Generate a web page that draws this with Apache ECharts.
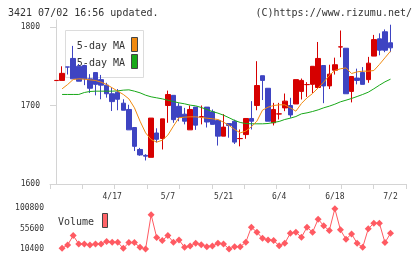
<!DOCTYPE html>
<html>
<head>
<meta charset="utf-8">
<script src="https://cdn.jsdelivr.net/npm/echarts@6.0.0/dist/echarts.min.js"></script>
<style>
html,body{margin:0;padding:0;background:#fff;}
#chart{width:420px;height:259px;}
</style>
</head>
<body>
<div id="chart"></div>
<script>
// trading days, index 0..60
var dates = ['4/3','4/4','4/5','4/8','4/9','4/10','4/11','4/12','4/15','4/16',
  '4/17','4/19','4/22','4/23','4/24','4/25','4/26','4/30','5/1','5/2',
  '5/7','5/8','5/9','5/10','5/13','5/14','5/15','5/16','5/17','5/20',
  '5/21','5/22','5/23','5/24','5/27','5/28','5/29','5/30','5/31','6/3',
  '6/4','6/5','6/6','6/7','6/10','6/11','6/12','6/13','6/14','6/17',
  '6/18','6/19','6/20','6/21','6/24','6/25','6/26','6/27','6/28','7/1',
  '7/2'];
var labelIdx = [10, 20, 30, 40, 50, 60];

var openVals = [1731.8,1732,1749.2,1760,1750,1751,1734,1742,1733,1726,
  1715,1717,1703,1695,1672,1644,1636.5,1634,1665,1658,
  1700,1713,1699,1689,1669,1698,1685.8,1698,1692,1681,
  1661,1677,1680,1657.8,1663,1683.5,1700,1738,1722,1678,
  1689.2,1697,1700,1702,1718,1726.6,1727,1723,1751,1725,
  1745,1774.6,1773,1718,1735,1742,1733,1763,1785,1794,
  1780];
var closeVals = [1732,1741,1749,1734,1731,1734,1722,1727,1726,1715,
  1705,1708,1694,1669,1648,1637,1635.5,1684,1657,1683,
  1714,1682,1685,1680,1695,1675,1686,1679,1676,1661,
  1672.5,1674.6,1653.4,1658,1683.5,1680,1725.5,1732,1680,1695,
  1689.4,1705.6,1688,1733,1732,1726.8,1750,1760,1725,1740,
  1752,1774.8,1715,1737,1732,1727,1754,1784,1770.5,1770.5,
  1773.5];
var lowVals = [1731.8,1732,1739.5,1734,1731,1726,1716,1713,1708,1710,
  1693,1694,1694,1669,1642,1636,1630,1634,1653,1644,
  1678,1678,1680,1676,1669,1669,1676,1672,1676,1649,
  1661,1659,1651,1648,1657.6,1669.5,1694,1707,1680,1674.6,
  1682.2,1692.8,1684.4,1702,1707.7,1711,1716,1721,1703,1721,
  1739.5,1761.6,1715,1704,1727,1727,1729,1763,1764,1768,
  1768];
var highVals = [1732,1750,1749.2,1776,1753,1752,1740,1742,1739,1729,
  1723,1721,1708,1701,1672,1646,1638,1684,1671,1683,
  1719,1713,1703,1697,1700,1698,1700,1698,1695,1681,
  1689,1677,1682,1669.5,1683.5,1705.6,1756.5,1738,1722,1703.4,
  1703.4,1715.3,1709.8,1733,1734.4,1729.8,1750,1781,1751,1752,
  1761,1795.6,1773,1737,1747,1749,1762,1790,1792,1797,
  1803];

var ma5 = [null,1721.3,1726.8,1733.2,1734.0,1733.6,1732.7,1731.9,1729.8,1726.8,
  1722.6,1718.3,1714.1,1708.5,1697.1,1680.1,1665.2,1656.7,1653.3,1655.9,
  1662.3,1673.7,1684.4,1685.2,1685.6,1685.6,1684.8,1683.9,1683.1,1682.2,
  1678.8,1674.6,1669.5,1665.2,1667.4,1672.9,1680.1,1694.1,1697.9,1700,
  1700.9,1700.9,1697.1,1692.8,1702.6,1709.8,1715.3,1722.6,1729.8,1738.3,
  1744.6,1746.8,1748,1740.8,1742.9,1743.8,1743.8,1744.6,1752.3,1760.8,
  1769.3];
var ma25 = [null,1714.1,1714.1,1714.1,1714.1,1716.6,1717.9,1718.3,1718.3,1718.3,
  1718.3,1718.7,1719.6,1720,1718.3,1716.2,1713.2,1711.1,1709.8,1708.5,
  1706.8,1705.1,1703.4,1702.2,1700.5,1699.6,1697.5,1695,1692.4,1690.3,
  1687.7,1684.4,1681,1678.4,1677.1,1676.7,1676.7,1676.7,1677.1,1678.4,
  1679.7,1682.2,1683.9,1686,1689.4,1690.7,1692.4,1694.5,1697.1,1699.2,
  1701.7,1704.7,1706.8,1709,1711.5,1714.1,1717,1721.3,1725.9,1730.2,
  1733.6];

var volumes = [null,11880,19280,40000,21500,21500,19280,21500,21500,26680,
  25200,25200,11880,24460,24460,14100,10400,85880,35560,28900,
  40000,25200,30380,14100,17060,22980,20000,15580,17060,22980,
  21500,10400,15580,15580,25200,58500,47400,34080,30380,28900,
  17800,22980,45180,47400,36300,58500,47400,76260,61460,51100,
  99200,52580,31860,43700,22980,14100,54800,67380,67380,24460,
  45180];

var priceTicks = [1600, 1700, 1800];
var volTicks = [10400, 55600, 100800];

var RED = '#d60000';
var BLUE = '#3e44c2';
var ORANGE = '#f08a10';
var GREEN = '#18a818';
var VOL = '#ff5a62';
var AXIS = '#d4d4d4';
var FONT = 'DejaVu Sans Mono';
var xMin = -1.17, xMax = 62.78;

function pairs(arr) {
  return arr.map(function (v, i) { return [i, v]; });
}
function plain(v) {
  return String(v);
}

var candles = dates.map(function (d, i) {
  return [i, openVals[i], closeVals[i], lowVals[i], highVals[i]];
});

var chart = echarts.init(document.getElementById('chart'));

var option = {
  animation: false,
  grid: [
    {left: 50, right: 14, top: 20, height: 164},
    {left: 50, right: 14, top: 208, height: 41}
  ],
  xAxis: [
    {
      type: 'value', gridIndex: 0, position: 'bottom', min: xMin, max: xMax,
      axisLine: {show: false}, axisTick: {show: false}, splitLine: {show: false},
      axisLabel: {
        customValues: labelIdx,
        formatter: function (v) { return dates[v]; },
        fontFamily: FONT, fontSize: 8, color: '#333', margin: 9
      }
    },
    {
      // tick marks along the bottom of the price chart
      type: 'value', gridIndex: 0, position: 'bottom', min: 0, max: 11, interval: 1,
      axisLine: {show: true, lineStyle: {color: AXIS}},
      axisTick: {show: true, length: 5, lineStyle: {color: AXIS}},
      axisLabel: {show: false}, splitLine: {show: false}
    },
    {type: 'value', gridIndex: 1, min: xMin, max: xMax, show: false}
  ],
  yAxis: [
    {
      type: 'value', gridIndex: 0, position: 'left', min: 1600, max: 1809,
      axisLine: {show: true, lineStyle: {color: AXIS}},
      axisTick: {show: true, length: 5, customValues: priceTicks, lineStyle: {color: AXIS}},
      axisLabel: {customValues: priceTicks, formatter: plain, fontFamily: FONT, fontSize: 8, color: '#333', margin: 10},
      splitLine: {show: false}
    },
    {
      type: 'value', gridIndex: 0, position: 'left', min: 1600, max: 1809,
      axisLine: {show: false},
      axisTick: {show: true, inside: true, length: 3, customValues: priceTicks, lineStyle: {color: AXIS}},
      axisLabel: {show: false}, splitLine: {show: false}
    },
    {
      type: 'value', gridIndex: 1, min: 10400, max: 100800,
      axisLine: {show: false}, axisTick: {show: false}, splitLine: {show: false},
      axisLabel: {customValues: volTicks, formatter: plain, fontFamily: FONT, fontSize: 8, color: '#333', margin: 6}
    }
  ],
  graphic: [
    {type: 'text', x: 8, y: 13, z: 0, style: {text: '3421 07/02 16:56 updated.', font: '10px ' + FONT, fill: '#333', textVerticalAlign: 'middle'}},
    {type: 'text', x: 412, y: 13, z: 0, style: {text: '(C)https://www.rizumu.net/', font: '10px ' + FONT, fill: '#333', textAlign: 'right', textVerticalAlign: 'middle'}},
    {type: 'rect', z: 0, shape: {x: 65.5, y: 30.5, width: 78, height: 47}, style: {fill: '#fff', stroke: '#dcdcdc', lineWidth: 1}},
    {type: 'text', x: 125, y: 46, z: 0, style: {text: '5-day MA', font: '10px ' + FONT, fill: '#333', textAlign: 'right', textVerticalAlign: 'middle'}},
    {type: 'text', x: 125, y: 63, z: 0, style: {text: '25-day MA', font: '10px ' + FONT, fill: '#333', textAlign: 'right', textVerticalAlign: 'middle'}},
    {type: 'rect', z: 0, shape: {x: 131.5, y: 37.5, width: 6, height: 14}, style: {fill: ORANGE, stroke: '#444', lineWidth: 1}},
    {type: 'rect', z: 0, shape: {x: 131.5, y: 54.5, width: 6, height: 14}, style: {fill: GREEN, stroke: '#444', lineWidth: 1}},
    {type: 'text', x: 58, y: 222, z: 0, style: {text: 'Volume', font: '10px ' + FONT, fill: '#333', textVerticalAlign: 'middle'}},
    {type: 'rect', z: 0, shape: {x: 102.5, y: 213.5, width: 5, height: 14}, style: {fill: '#ff6468', stroke: '#444', lineWidth: 1}}
  ],
  series: [
    {
      type: 'candlestick', xAxisIndex: 0, yAxisIndex: 0,
      data: candles, encode: {x: 0, y: [1, 2, 3, 4]},
      barWidth: 5,
      itemStyle: {color: RED, color0: BLUE, borderColor: RED, borderColor0: BLUE, borderWidth: 1}
    },
    {
      type: 'line', xAxisIndex: 0, yAxisIndex: 0, data: pairs(ma25),
      showSymbol: false, lineStyle: {width: 1, color: GREEN}
    },
    {
      type: 'line', xAxisIndex: 0, yAxisIndex: 0, data: pairs(ma5),
      showSymbol: false, lineStyle: {width: 1, color: ORANGE}
    },
    {
      type: 'line', xAxisIndex: 2, yAxisIndex: 2, data: pairs(volumes),
      symbol: 'diamond', symbolSize: 7, showAllSymbol: true, clip: false,
      lineStyle: {width: 1, color: VOL}, itemStyle: {color: VOL}
    }
  ]
};

chart.setOption(option);
</script>
</body>
</html>
